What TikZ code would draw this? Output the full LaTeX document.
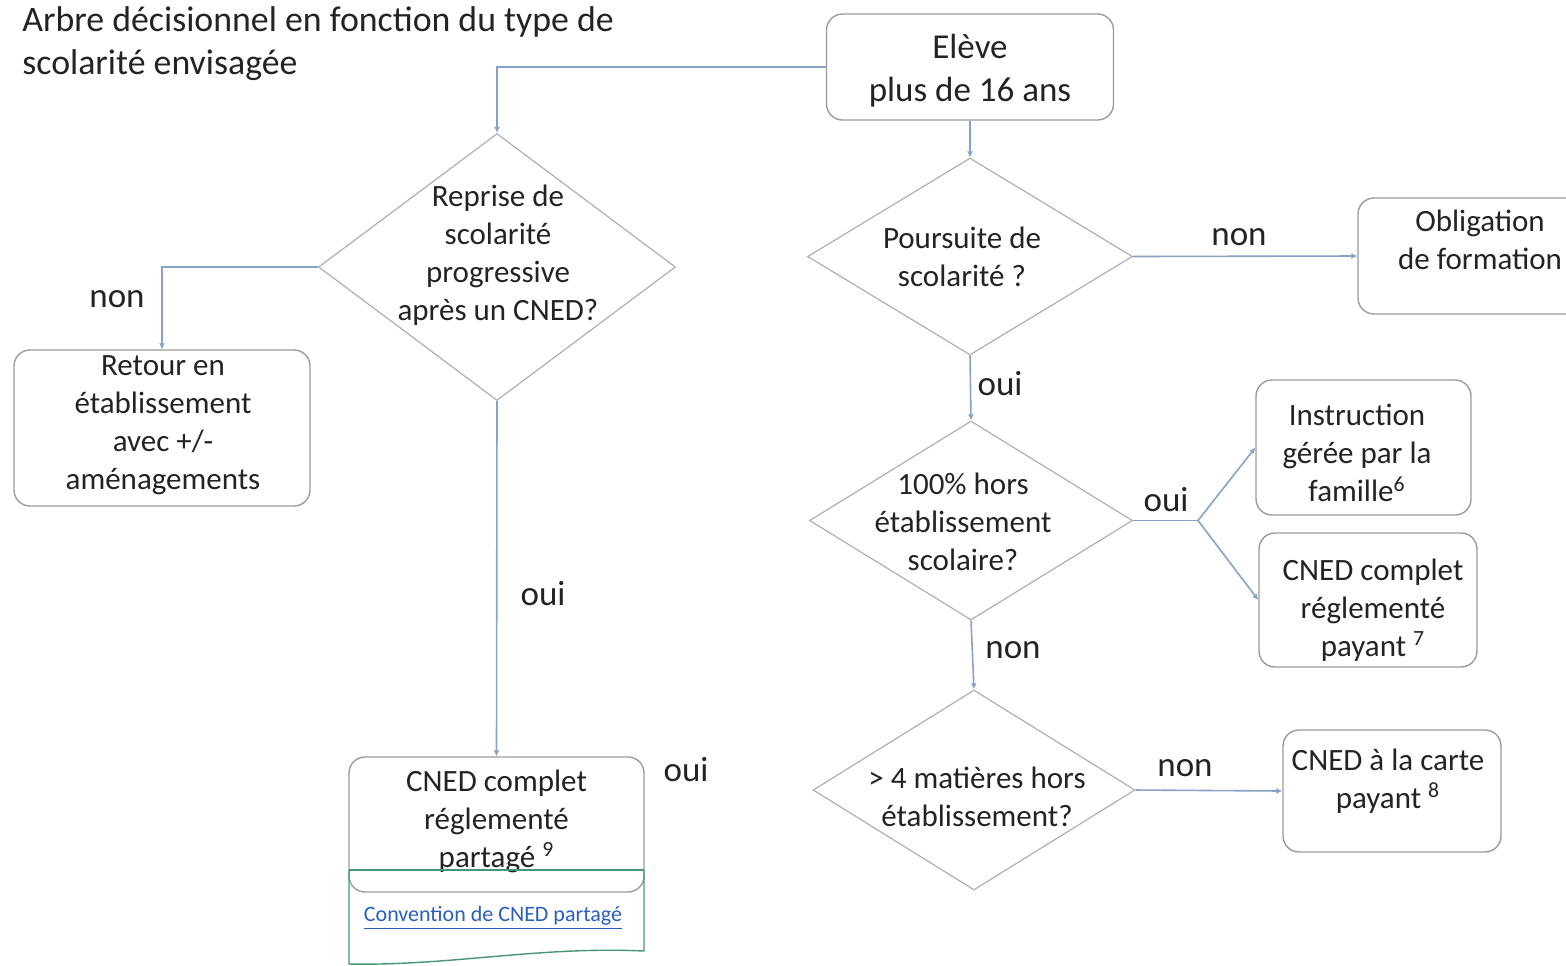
\documentclass[tikz,border=0pt]{standalone}
\usepackage{fontspec}
\setmainfont{Carlito}
\usetikzlibrary{shapes.geometric,arrows.meta}
\definecolor{connc}{RGB}{135,162,198}
\definecolor{boxc}{RGB}{155,155,155}
\definecolor{diac}{RGB}{175,175,175}
\definecolor{txt}{RGB}{35,35,35}
\definecolor{grn}{RGB}{70,150,115}
\definecolor{lnk}{RGB}{40,95,190}
\begin{document}
\begin{tikzpicture}[x=0.5pt,y=-0.5pt,
  box/.style={draw=boxc, rounded corners=8pt, line width=0.7pt, align=center, inner sep=0pt, text=txt},
  dia/.style={draw=diac, shape=diamond, line width=0.6pt, inner sep=0pt},
  arr/.style={draw=connc, line width=0.8pt, -{Latex[length=3pt,width=3pt]}},
  plain/.style={draw=connc, line width=0.8pt},
  lab/.style={font=\fontsize{17.5}{21}\selectfont, text=txt},
  bt/.style={font=\fontsize{15.5}{19}\selectfont, text=txt, align=center},
  big/.style={font=\fontsize{17.5}{21.5}\selectfont, text=txt, align=center}]
\useasboundingbox (0,0) rectangle (1566,965);

% title
\node[font=\fontsize{17.9}{21.5}\selectfont, text=txt, align=left, anchor=west, inner sep=0pt] (title) at (22,44) {Arbre décisionnel en fonction du type de\\scolarité envisagée};

% nodes
\node[box, minimum width=143.5pt, minimum height=53pt] (eleve) at (970,67) {};
\node[big] (elevet) at (970,71) {Elève\\plus de 16 ans};

\node[dia, minimum width=178.5pt, minimum height=133.5pt] (d1) at (497,267) {};
\node[bt] (d1t) at (498,255) {Reprise de\\scolarité\\progressive\\après un CNED?};

\node[box, minimum width=148pt, minimum height=78pt] (retour) at (162,428) {};
\node[bt] (retourt) at (163,425.5) {Retour en\\établissement\\avec +/-\\aménagements};

\node[box, minimum width=147.5pt, minimum height=67.5pt] (partage) at (496.5,824.5) {};
\node[bt] (partaget) at (496.5,821) {CNED complet\\réglementé\\partagé \textsuperscript{9}};

\draw[grn, line width=0.7pt] (349,870) -- (644,870);
\draw[grn, line width=0.7pt] (349,870) -- (349,964) .. controls (450,966) and (540,946) .. (644,951) -- (644,870);
\node[font=\fontsize{11}{13}\selectfont, text=lnk, inner sep=0pt] (link) at (493,918) {\underline{Convention de CNED partagé}};

\node[dia, minimum width=162.5pt, minimum height=98.5pt] (d2) at (970,256.5) {};
\node[bt] (d2t) at (962,257) {Poursuite de\\scolarité ?};

\node[box, minimum width=121pt, minimum height=58pt] (oblig) at (1479,256) {};
\node[bt] (obligt) at (1480,240) {Obligation\\de formation};

\node[dia, minimum width=161.5pt, minimum height=99.5pt] (d3) at (971,520.5) {};
\node[bt] (d3t) at (963,522) {100\% hors\\établissement\\scolaire?};

\node[box, minimum width=107.5pt, minimum height=67.5pt] (instr) at (1363.5,447.5) {};
\node[bt] (instrt) at (1357,453) {Instruction\\gérée par la\\famille\textsuperscript{6}};

\node[box, minimum width=109pt, minimum height=67pt] (cnedp) at (1368,600) {};
\node[bt] (cnedpt) at (1373,610) {CNED complet\\réglementé\\payant \textsuperscript{7}};

\node[dia, minimum width=161pt, minimum height=100pt] (d4) at (974,790) {};
\node[bt] (d4t) at (977,796.5) {> 4 matières hors\\établissement?};

\node[box, minimum width=109pt, minimum height=61pt] (carte) at (1392,791) {};
\node[bt] (cartet) at (1388,781) {CNED à la carte\\payant \textsuperscript{8}};

% connectors
\draw[arr] (eleve.west) -| (d1.north);
\draw[arr] (eleve.south) -- (d2.north);
\draw[arr] (d1.west) -| (retour.north);
\draw[arr] (d1.south) -- (partage.north);
\draw[arr] (d2.east) -- (oblig.west);
\draw[arr] (d2.south) -- (d3.north);
\coordinate (br) at (1198,520.5);
\draw[plain] (d3.east) -- (br);
\draw[arr] (br) -- (instr.west);
\draw[arr] (br) -- (cnedp.west);
\draw[arr] (d3.south) -- (d4.north);
\draw[arr] (d4.east) -- (carte.west);

% labels
\node[lab] (l1) at (117,299) {non};
\node[lab] (l2) at (543,594) {oui};
\node[lab] (l3) at (686,770) {oui};
\node[lab] (l4) at (1239,237) {non};
\node[lab] (l5) at (1000,384) {oui};
\node[lab] (l6) at (1166,500) {oui};
\node[lab] (l7) at (1013,650) {non};
\node[lab] (l8) at (1185,768) {non};
\end{tikzpicture}
\end{document}
